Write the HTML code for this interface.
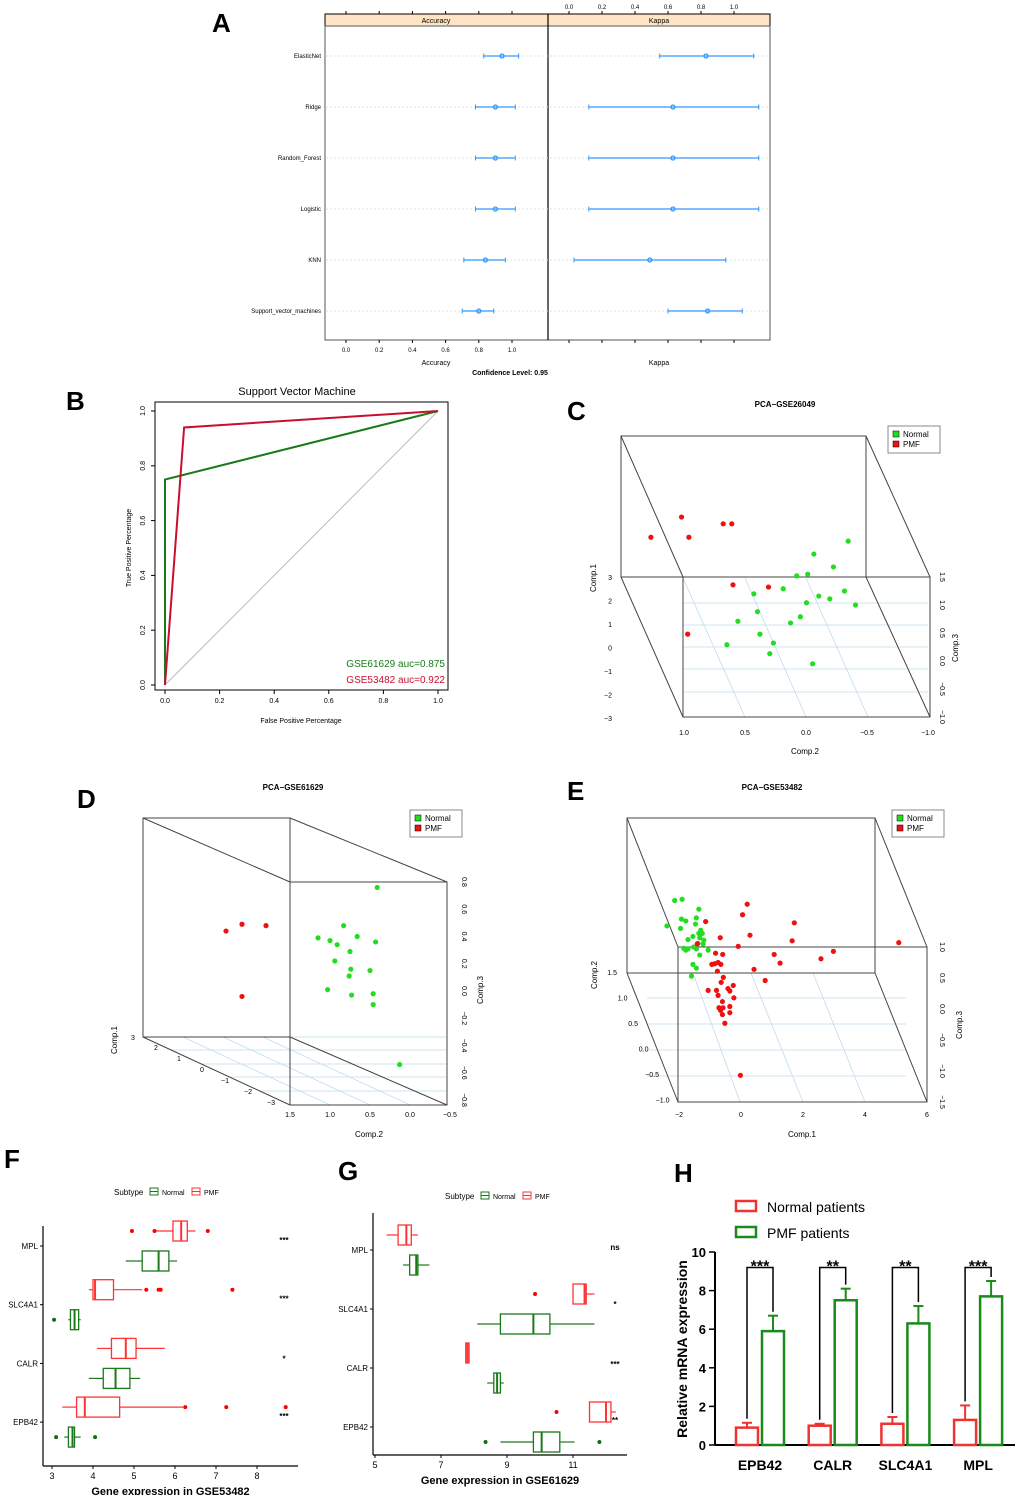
<!DOCTYPE html>
<html><head><meta charset="utf-8"><style>
html,body{margin:0;padding:0;background:#fff}
svg{display:block;font-family:"Liberation Sans",Arial,sans-serif}
</style></head><body>
<svg id="fig" width="1020" height="1495" viewBox="0 0 1020 1495" xmlns="http://www.w3.org/2000/svg"></svg>
<script>
// ---------- DATA ----------
// Panel A
const aModels=["ElasticNet","Ridge","Random_Forest","Logistic","KNN","Support_vector_machines"];
const accMean=[0.94,0.90,0.90,0.90,0.84,0.80];
const accLo=[0.83,0.78,0.78,0.78,0.71,0.70];
const accHi=[1.04,1.02,1.02,1.02,0.96,0.89];
const kapMean=[0.83,0.63,0.63,0.63,0.49,0.84];
const kapLo=[0.55,0.12,0.12,0.12,0.03,0.60];
const kapHi=[1.12,1.15,1.15,1.15,0.95,1.05];
const aTicks=[0,0.2,0.4,0.6,0.8,1.0];
// Panel B
const rocGreenX=[0,0,1], rocGreenY=[0,0.75,1];
const rocRedX=[0,0.07,1], rocRedY=[0,0.94,1];
const bTicks=[0,0.2,0.4,0.6,0.8,1.0];
// Panel C (Comp.2, Comp.3 projected)
const cRed2=[1.27,1.02,0.96,0.68,0.61,0.60,0.31,0.97];
const cRed3=[2.21,2.57,2.21,2.45,2.45,1.36,1.32,0.48];
const cGreen2=[-0.34,-0.06,-0.22,0.08,-0.01,0.43,0.19,-0.10,-0.31,-0.19,-0.40,0.00,0.40,0.05,0.13,0.38,0.65,0.27,0.30,-0.05,0.56];
const cGreen3=[2.14,1.91,1.68,1.52,1.55,1.20,1.29,1.16,1.25,1.11,1.0,1.04,0.88,0.79,0.68,0.48,0.29,0.32,0.13,-0.05,0.71];
// Panel D
const dRed2=[2.30,2.10,1.80,2.10];
const dRed3=[0.44,0.49,0.48,-0.04];
const dGreen2=[0.41,0.83,1.15,1.0,0.91,0.66,0.43,0.75,0.94,0.74,0.76,0.50,1.03,0.73,0.46,0.46,0.13];
const dGreen3=[0.76,0.48,0.39,0.37,0.34,0.40,0.36,0.29,0.22,0.16,0.11,0.15,0.01,-0.03,-0.02,-0.10,-0.54];
// Panel E
const eGreen1=[-2.14,-1.90,-1.36,-1.92,-1.78,-1.44,-2.39,-1.95,-1.47,-1.30,-1.36,-1.25,-1.55,-1.71,-1.33,-1.20,-1.39,-1.22,-1.85,-1.78,-1.71,-1.53,-1.44,-1.06,-1.33,-1.55,-1.44,-1.60];
const eGreen3=[1.75,1.77,1.61,1.45,1.42,1.47,1.34,1.30,1.37,1.27,1.22,1.22,1.17,1.12,1.15,1.11,1.06,1.05,0.98,0.95,0.97,1.0,0.97,0.95,0.87,0.72,0.66,0.53];
const eRed1=[0.20,0.05,1.72,-1.14,0.29,-0.67,1.65,-0.09,5.09,2.98,1.07,1.26,2.58,-1.41,-0.82,-0.59,-0.94,-0.85,-0.74,-0.65,0.42,-0.76,-0.57,0.78,-0.64,-0.25,-0.42,-0.36,-1.06,-0.79,-0.74,-0.23,-0.60,-0.71,-0.58,-0.36,-0.66,-0.36,-0.60,-0.52,-0.02];
const eRed3=[1.69,1.52,1.39,1.41,1.19,1.15,1.10,1.01,1.07,0.93,0.88,0.74,0.81,1.05,0.90,0.88,0.72,0.73,0.75,0.72,0.64,0.61,0.51,0.46,0.43,0.38,0.33,0.29,0.30,0.30,0.22,0.18,0.12,0.02,0.02,0.04,-0.02,-0.06,-0.09,-0.23,-1.07];
// Panel F / G boxplots: [min,q1,med,q3,max]
const genes=["MPL","SLC4A1","CALR","EPB42"];
const fPMF=[[5.5,5.95,6.15,6.3,6.5],[3.9,4.0,4.05,4.5,5.2],[4.1,4.45,4.8,5.05,5.75],[3.25,3.6,3.8,4.65,6.2]];
const fNorm=[[4.8,5.2,5.6,5.85,6.05],[3.4,3.45,3.55,3.65,3.7],[3.9,4.25,4.55,4.9,5.15],[3.3,3.4,3.5,3.55,3.7]];
const fPMFout=[[4.95,5.5,6.8],[5.3,5.6,5.65,7.4],[],[6.25,7.25,8.7]];
const fNormOut=[[],[3.05],[],[3.1,4.05]];
const fSig=["***","***","*","***"];
const fTicks=[3,4,5,6,7,8];
const gPMF=[[5.35,5.7,5.95,6.1,6.3],[11.0,11.0,11.35,11.4,11.65],[7.75,7.75,7.8,7.85,7.85],[11.5,11.5,12.0,12.15,12.3]];
const gNorm=[[5.85,6.05,6.25,6.3,6.65],[8.1,8.8,9.8,10.3,11.65],[8.4,8.6,8.7,8.8,8.9],[8.8,9.8,10.05,10.6,11.05]];
const gPMFout=[[],[9.85],[],[10.5]];
const gNormOut=[[],[],[],[8.35,11.8]];
const gSig=["ns","*","***","**"];
const gTicks=[5,7,9,11];
// Panel H
const hGenes=["EPB42","CALR","SLC4A1","MPL"];
const hNormal=[0.9,1.0,1.1,1.3];
const hNormalErr=[0.25,0.1,0.35,0.75];
const hPMF=[5.9,7.5,6.3,7.7];
const hPMFErr=[0.8,0.6,0.9,0.8];
const hSig=["***","**","**","***"];
const hTicks=[0,2,4,6,8,10];

// ---------- HELPERS ----------
const NS="http://www.w3.org/2000/svg";
const svg=document.getElementById('fig');
function el(tag,attrs,parent){const e=document.createElementNS(NS,tag);for(const k in attrs)e.setAttribute(k,attrs[k]);(parent||svg).appendChild(e);return e;}
function txt(s,x,y,size,opts,parent){const t=el('text',Object.assign({x:x,y:y,'font-size':size,fill:'#000'},opts||{}),parent);t.textContent=s;return t;}
function lin(d0,d1,r0,r1){return v=>r0+(v-d0)/(d1-d0)*(r1-r0);}
function grp(){return el('g',{});}

[["A",212,32],["B",66,410],["C",567,420],["D",77,808],["E",567,800],["F",4,1168],["G",338,1180],["H",674,1182]].forEach(p=>{
 const t=txt(p[0],p[1],p[2],26,{'font-weight':'bold'});
 
 
});

// ---------- PANEL A ----------
(function(){
 const g=grp();
 
 
 const xA=lin(0,1,346,512), xK=lin(0,1,569,734);
 const rowY=i=>56+i*51;
 el('rect',{x:325,y:14,width:223,height:12,fill:'#ffe5c6',stroke:'#000','stroke-width':1},g);
 el('rect',{x:548,y:14,width:222,height:12,fill:'#ffe5c6',stroke:'#000','stroke-width':1},g);
 txt("Accuracy",436,23,7,{'text-anchor':'middle'},g);
 txt("Kappa",659,23,7,{'text-anchor':'middle'},g);
 el('rect',{x:325,y:26,width:445,height:314,fill:'none',stroke:'#555','stroke-width':1},g);
 el('line',{x1:548,y1:14,x2:548,y2:340,stroke:'#000','stroke-width':1.2},g);
 aModels.forEach((m,i)=>{
  const y=rowY(i);
  el('line',{x1:326,y1:y,x2:769,y2:y,stroke:'#e3e3e3','stroke-dasharray':'2,2'},g);
  const l=txt(m,321,y+2,6,{'text-anchor':'end'},g);
  
  
  [[xA,accLo,accHi,accMean],[xK,kapLo,kapHi,kapMean]].forEach(s=>{
   const sc=s[0];
   el('line',{x1:sc(s[1][i]),y1:y,x2:sc(s[2][i]),y2:y,stroke:'#3399ff','stroke-width':1.3},g);
   el('line',{x1:sc(s[1][i]),y1:y-2.5,x2:sc(s[1][i]),y2:y+2.5,stroke:'#3399ff'},g);
   el('line',{x1:sc(s[2][i]),y1:y-2.5,x2:sc(s[2][i]),y2:y+2.5,stroke:'#3399ff'},g);
   const c=el('circle',{cx:sc(s[3][i]),cy:y,r:2,fill:'none',stroke:'#3399ff','stroke-width':1.3},g);
   
   
  });
 });
 aTicks.forEach(t=>{
  el('line',{x1:xA(t),y1:340,x2:xA(t),y2:343,stroke:'#000'},g);
  txt(t.toFixed(1),xA(t),352,6,{'text-anchor':'middle'},g);
  el('line',{x1:xA(t),y1:11,x2:xA(t),y2:14,stroke:'#000'},g);
  el('line',{x1:xK(t),y1:11,x2:xK(t),y2:14,stroke:'#000'},g);
  txt(t.toFixed(1),xK(t),9,6,{'text-anchor':'middle'},g);
  el('line',{x1:xK(t),y1:340,x2:xK(t),y2:343,stroke:'#000'},g);
 });
 txt("Accuracy",436,365,7,{'text-anchor':'middle'},g);
 txt("Kappa",659,365,7,{'text-anchor':'middle'},g);
 txt("Confidence Level: 0.95",510,375,7,{'text-anchor':'middle','font-weight':'bold'},g);
})();

// ---------- PANEL B ----------
(function(){
 const g=grp();
 
 
 const x=lin(0,1,165,438), y=lin(0,1,685,411);
 el('rect',{x:155,y:402,width:293,height:288,fill:'none',stroke:'#000','stroke-width':1},g);
 txt("Support Vector Machine",297,395,11,{'text-anchor':'middle'},g);
 el('line',{x1:x(0),y1:y(0),x2:x(1),y2:y(1),stroke:'#bbb','stroke-width':1},g);
 bTicks.forEach(t=>{
  el('line',{x1:x(t),y1:690,x2:x(t),y2:694,stroke:'#000'},g);
  txt(t.toFixed(1),x(t),703,7,{'text-anchor':'middle'},g);
  el('line',{x1:151,y1:y(t),x2:155,y2:y(t),stroke:'#000'},g);
  txt(t.toFixed(1),145,y(t),7,{'text-anchor':'middle',transform:`rotate(-90 145 ${y(t)})`},g);
 });
 txt("False Positive Percentage",301,723,7,{'text-anchor':'middle'},g);
 txt("True Positive Percentage",131,548,7,{'text-anchor':'middle',transform:'rotate(-90 131 548)'},g);
 const pg=el('polyline',{points:rocGreenX.map((v,i)=>x(v)+','+y(rocGreenY[i])).join(' '),fill:'none',stroke:'#1a7a1a','stroke-width':2},g);
 
 
 const pr=el('polyline',{points:rocRedX.map((v,i)=>x(v)+','+y(rocRedY[i])).join(' '),fill:'none',stroke:'#c8102e','stroke-width':2},g);
 
 
 txt("GSE61629 auc=0.875",445,667,10,{'text-anchor':'end',fill:'#1a7a1a'},g);
 txt("GSE53482 auc=0.922",445,683,10,{'text-anchor':'end',fill:'#c8102e'},g);
})();

// ---------- 3D PCA helper ----------
function box3d(g,back,front){
 const [bx1,by1,bx2,by2]=back,[fx1,fy1,fx2,fy2]=front;
 const s={stroke:'#444','stroke-width':1,fill:'none'};
 el('rect',Object.assign({x:bx1,y:by1,width:bx2-bx1,height:by2-by1},s),g);
 el('rect',Object.assign({x:fx1,y:fy1,width:fx2-fx1,height:fy2-fy1},s),g);
 [[bx1,by1,fx1,fy1],[bx2,by1,fx2,fy1],[bx1,by2,fx1,fy2],[bx2,by2,fx2,fy2]].forEach(l=>el('line',Object.assign({x1:l[0],y1:l[1],x2:l[2],y2:l[3]},s),g));
}
function legend3d(g,x,y){
 el('rect',{x:x,y:y,width:52,height:27,fill:'#fff',stroke:'#888'},g);
 el('rect',{x:x+5,y:y+5,width:6,height:6,fill:'#22dd22',stroke:'#000','stroke-width':0.5},g);
 el('rect',{x:x+5,y:y+15,width:6,height:6,fill:'#ee1111',stroke:'#000','stroke-width':0.5},g);
 txt("Normal",x+15,y+11,8,{},g);txt("PMF",x+15,y+21,8,{},g);
}
function pts(g,xs,ys,sx,sy,col,name){
 xs.forEach((v,i)=>{const c=el('circle',{cx:sx(v),cy:sy(ys[i]),r:2.6,fill:col},g);
  
  });
}
function gridLines(g,lines){lines.forEach(l=>el('line',{x1:l[0],y1:l[1],x2:l[2],y2:l[3],stroke:'#bfdcee','stroke-width':0.8},g));}

// ---------- PANEL C ----------
(function(){
 const g=grp();
 
 
 txt("PCA\u2212GSE26049",785,407,8,{'text-anchor':'middle','font-weight':'bold'},g);
 gridLines(g,[[683,603,928,603],[683,625,928,625],[683,647,928,647],[683,669,928,669],[683,692,928,692],[683,578,745,717],[745,578,806,717],[806,578,868,717]]);
 box3d(g,[621,436,866,577],[683,577,930,717]);
 legend3d(g,888,426);
 const sx=lin(1,-1,684,929), sy=lin(1.5,-1,577,717);
 pts(g,cRed2,cRed3,sx,sy,'#ee1111','pmf-point');
 pts(g,cGreen2,cGreen3,sx,sy,'#22dd22','normal-point');
 ["1.0","0.5","0.0","\u22120.5","\u22121.0"].forEach((t,i)=>txt(t,684+i*61,735,7,{'text-anchor':'middle'},g));
 ["1.5","1.0","0.5","0.0","\u22120.5","\u22121.0"].forEach((t,i)=>txt(t,940,577+i*28,7,{'text-anchor':'middle',transform:`rotate(90 940 ${577+i*28})`},g));
 ["3","2","1","0","\u22121","\u22122","\u22123"].forEach((t,i)=>txt(t,612,580+i*23.5,7,{'text-anchor':'end'},g));
 txt("Comp.2",805,754,8,{'text-anchor':'middle'},g);
 txt("Comp.1",596,578,8,{'text-anchor':'middle',transform:'rotate(-90 596 578)'},g);
 txt("Comp.3",958,648,8,{'text-anchor':'middle',transform:'rotate(-90 958 648)'},g);
})();

// ---------- PANEL D ----------
(function(){
 const g=grp();
 
 
 txt("PCA\u2212GSE61629",293,790,8,{'text-anchor':'middle','font-weight':'bold'},g);
 gridLines(g,[[143,1037,447,1037],[172,1050,447,1050],[201,1064,447,1064],[230,1077,447,1077],[259,1091,447,1091],[330,1105,183,1037],[370,1105,223,1037],[410,1105,263,1037]]);
 box3d(g,[143,818,290,1037],[290,882,447,1105]);
 legend3d(g,410,810);
 const sx=lin(1.5,-0.5,290,450), sy=lin(0.8,-0.8,882,1100);
 pts(g,dRed2,dRed3,sx,sy,'#ee1111','pmf-point');
 pts(g,dGreen2,dGreen3,sx,sy,'#22dd22','normal-point');
 ["1.5","1.0","0.5","0.0","\u22120.5"].forEach((t,i)=>txt(t,290+i*40,1117,7,{'text-anchor':'middle'},g));
 ["0.8","0.6","0.4","0.2","0.0","\u22120.2","\u22120.4","\u22120.6","\u22120.8"].forEach((t,i)=>txt(t,462,882+i*27.25,7,{'text-anchor':'middle',transform:`rotate(90 462 ${882+i*27.25})`},g));
 ["2","1","0","\u22121","\u22122","\u22123"].forEach((t,i)=>txt(t,156+i*23,1050+i*11,7,{'text-anchor':'middle'},g));
 txt("3",131,1040,7,{},g);
 txt("Comp.2",369,1137,8,{'text-anchor':'middle'},g);
 txt("Comp.1",117,1040,8,{'text-anchor':'middle',transform:'rotate(-90 117 1040)'},g);
 txt("Comp.3",483,990,8,{'text-anchor':'middle',transform:'rotate(-90 483 990)'},g);
})();

// ---------- PANEL E ----------
(function(){
 const g=grp();
 
 
 txt("PCA\u2212GSE53482",772,790,8,{'text-anchor':'middle','font-weight':'bold'},g);
 gridLines(g,[[647,998,906,998],[647,1024,906,1024],[647,1050,906,1050],[647,1076,906,1076],[693,973,740,1102],[751,973,803,1102],[813,973,865,1102]]);
 box3d(g,[627,818,875,973],[678,947,927,1102]);
 legend3d(g,892,810);
 const sx=lin(-2,6,679,927), sy=lin(1,-1.5,947,1102);
 pts(g,eGreen1,eGreen3,sx,sy,'#22dd22','normal-point');
 pts(g,eRed1,eRed3,sx,sy,'#ee1111','pmf-point');
 ["\u22122","0","2","4","6"].forEach((t,i)=>txt(t,679+i*62,1117,7,{'text-anchor':'middle'},g));
 ["1.0","0.5","0.0","\u22120.5","\u22121.0","\u22121.5"].forEach((t,i)=>txt(t,940,947+i*31,7,{'text-anchor':'middle',transform:`rotate(90 940 ${947+i*31})`},g));
 ["1.5","1.0","0.5","0.0","\u22120.5","\u22121.0"].forEach((t,i)=>txt(t,617+i*10.5,975+i*25.5,7,{'text-anchor':'end'},g));
 txt("Comp.1",802,1137,8,{'text-anchor':'middle'},g);
 txt("Comp.2",597,975,8,{'text-anchor':'middle',transform:'rotate(-90 597 975)'},g);
 txt("Comp.3",962,1025,8,{'text-anchor':'middle',transform:'rotate(-90 962 1025)'},g);
})();

// ---------- PANELS F & G ----------
function boxPanel(name,cfg){
 const g=grp();
 
 
 const x=lin(cfg.d0,cfg.d1,cfg.r0,cfg.r1);
 el('line',{x1:cfg.ax,y1:cfg.yTop,x2:cfg.ax,y2:cfg.yBot,stroke:'#000','stroke-width':1.2},g);
 el('line',{x1:cfg.ax,y1:cfg.yBot,x2:cfg.xEnd,y2:cfg.yBot,stroke:'#000','stroke-width':1.2},g);
 cfg.ticks.forEach(t=>{el('line',{x1:x(t),y1:cfg.yBot,x2:x(t),y2:cfg.yBot+3,stroke:'#000'},g);txt(String(t),x(t),cfg.yBot+13,9,{'text-anchor':'middle'},g);});
 txt(cfg.xlabel,(cfg.ax+cfg.xEnd)/2,cfg.yBot+29,11,{'text-anchor':'middle','font-weight':'bold'},g);
 const lx=cfg.legX,ly=cfg.legY;
 txt("Subtype",lx,ly,8,{},g);
 el('rect',{x:lx+36,y:ly-7,width:8,height:7,fill:'none',stroke:'#1a7a1a'},g);
 el('line',{x1:lx+36,y1:ly-3.5,x2:lx+44,y2:ly-3.5,stroke:'#1a7a1a'},g);
 txt("Normal",lx+48,ly,7,{},g);
 el('rect',{x:lx+78,y:ly-7,width:8,height:7,fill:'none',stroke:'#ff3333'},g);
 el('line',{x1:lx+78,y1:ly-3.5,x2:lx+86,y2:ly-3.5,stroke:'#ff3333'},g);
 txt("PMF",lx+90,ly,7,{},g);
 genes.forEach((gn,i)=>{
  const cy=cfg.cat0+i*cfg.catStep;
  el('line',{x1:cfg.ax-3,y1:cy,x2:cfg.ax,y2:cy,stroke:'#000'},g);
  txt(gn,cfg.ax-5,cy+3,8,{'text-anchor':'end'},g);
  [[cfg.pmf,cfg.pmfOut,'#ff3333',-15,'pmf'],[cfg.norm,cfg.normOut,'#1a7a1a',15,'normal']].forEach(s=>{
   const b=s[0][i],yc=cy+s[3],h=10;
   el('line',{x1:x(b[0]),y1:yc,x2:x(b[1]),y2:yc,stroke:s[2],'stroke-width':1.2},g);
   el('line',{x1:x(b[3]),y1:yc,x2:x(b[4]),y2:yc,stroke:s[2],'stroke-width':1.2},g);
   const r=el('rect',{x:x(b[1]),y:yc-h,width:Math.max(x(b[3])-x(b[1]),1.5),height:2*h,fill:'#fff',stroke:s[2],'stroke-width':1.3},g);
   
   
   el('line',{x1:x(b[2]),y1:yc-h,x2:x(b[2]),y2:yc+h,stroke:s[2],'stroke-width':2},g);
   s[1][i].forEach(o=>el('circle',{cx:x(o),cy:yc,r:2,fill:s[2]==='#ff3333'?'#ff0000':'#136b13'},g));
  });
  txt(cfg.sig[i],cfg.sigX,cy+cfg.sigDy[i],8,{'text-anchor':'middle','font-weight':'bold'},g);
 });
}
boxPanel('panel-f-boxplot',{d0:3,d1:8,r0:52,r1:257,ax:43,xEnd:298,yTop:1226,yBot:1466,cat0:1246,catStep:58.7,
 pmf:fPMF,norm:fNorm,pmfOut:fPMFout,normOut:fNormOut,sig:fSig,sigX:284,sigDy:[-3,-3,-2,-3],ticks:fTicks,
 xlabel:"Gene expression in GSE53482",legX:114,legY:1195});
boxPanel('panel-g-boxplot',{d0:5,d1:11,r0:375,r1:573,ax:373,xEnd:627,yTop:1213,yBot:1455,cat0:1250,catStep:59,
 pmf:gPMF,norm:gNorm,pmfOut:gPMFout,normOut:gNormOut,sig:gSig,sigX:615,sigDy:[0,-2,-1,-4],ticks:gTicks,
 xlabel:"Gene expression in GSE61629",legX:445,legY:1199});

// ---------- PANEL H ----------
(function(){
 const g=grp();
 
 
 const y=lin(0,10,1445,1252);
 const cx=i=>760+i*72.7;
 el('line',{x1:715,y1:1252,x2:715,y2:1445,stroke:'#000','stroke-width':2},g);
 el('line',{x1:715,y1:1445,x2:1015,y2:1445,stroke:'#000','stroke-width':2},g);
 hTicks.forEach(t=>{el('line',{x1:709,y1:y(t),x2:715,y2:y(t),stroke:'#000','stroke-width':1.5},g);txt(String(t),706,y(t)+5,13,{'text-anchor':'end','font-weight':'bold'},g);});
 txt("Relative mRNA expression",687,1349,14,{'text-anchor':'middle','font-weight':'bold',transform:'rotate(-90 687 1349)'},g);
 el('rect',{x:736,y:1201,width:20,height:10,fill:'#fff',stroke:'#ee3333','stroke-width':2.5},g);
 txt("Normal patients",767,1212,14,{},g);
 el('rect',{x:736,y:1227,width:20,height:10,fill:'#fff',stroke:'#1a8a1a','stroke-width':2.5},g);
 txt("PMF patients",767,1238,14,{},g);
 hGenes.forEach((gn,i)=>{
  const c=cx(i);
  [[hNormal,hNormalErr,'#ee3333',c-24,'normal'],[hPMF,hPMFErr,'#1a8a1a',c+2,'pmf']].forEach(s=>{
   const v=s[0][i],e=s[1][i],bx=s[3],w=22;
   const r=el('rect',{x:bx,y:y(v),width:w,height:y(0)-y(v),fill:'#fff',stroke:s[2],'stroke-width':2.5},g);
   
   
   el('line',{x1:bx+w/2,y1:y(v),x2:bx+w/2,y2:y(v+e),stroke:s[2],'stroke-width':2},g);
   el('line',{x1:bx+w/2-5,y1:y(v+e),x2:bx+w/2+5,y2:y(v+e),stroke:s[2],'stroke-width':2},g);
  });
  const l=c-13,r2=c+13,top=y(9.2);
  el('polyline',{points:`${l},${y(hNormal[i]+hNormalErr[i])-4} ${l},${top} ${r2},${top} ${r2},${y(hPMF[i]+hPMFErr[i])-4}`,fill:'none',stroke:'#000','stroke-width':1.5},g);
  txt(hSig[i],c,top+4,16,{'text-anchor':'middle','font-weight':'bold'},g);
  txt(gn,c,1470,14,{'text-anchor':'middle','font-weight':'bold'},g);
 });
})();
</script>
</body></html>
